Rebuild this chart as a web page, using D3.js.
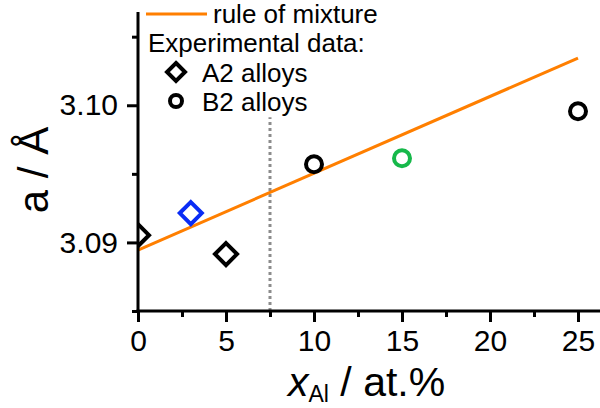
<!DOCTYPE html>
<html><head><meta charset="utf-8">
<script src="https://cdn.jsdelivr.net/npm/d3@7"></script>
<style>
body{margin:0;background:#fff;}
svg{display:block;font-family:"Liberation Sans",Arial,sans-serif;}
</style></head>
<body><svg id="c" width="600" height="408"></svg>
<script>
// Data
const a2X = [0, 5];
const a2Y = [3.09053, 3.08915];
const a2BlueX = [3];
const a2BlueY = [3.09214];
const b2X = [10, 25];
const b2Y = [3.09570, 3.09956];
const b2GreenX = [15];
const b2GreenY = [3.09614];
const ruleX = [0, 25];
const ruleY = [3.08944, 3.10344];
const boundaryX = [7.5];
const boundaryY = [3.085, 3.09913];
const xTicks = [0, 5, 10, 15, 20, 25];
const xMinor = [2.5, 7.5, 12.5, 17.5, 22.5];
const yTicks = [3.09, 3.10];
const yMinor = [3.085, 3.095, 3.105];
const legendLabels = ["rule of mixture", "Experimental data:", "A2 alloys", "B2 alloys"];

const svg = d3.select("#c");
const x = d3.scaleLinear().domain([0, 26.25]).range([138, 600]);
const y = d3.scaleLinear().domain([3.085, 3.1068]).range([311, 12]);

svg.append("defs").append("clipPath").attr("id","clip")
  .append("rect").attr("x",138).attr("y",0).attr("width",462).attr("height",311);

const plot = svg.append("g").attr("clip-path","url(#clip)");

// dashed boundary
plot.append("line")
  .attr("x1", x(boundaryX[0])).attr("x2", x(boundaryX[0]))
  .attr("y1", y(boundaryY[0])).attr("y2", y(boundaryY[1]))
  .attr("stroke","#8c8c8c").attr("stroke-width",3).attr("stroke-dasharray","3,3");

// rule of mixture
plot.append("path")
  .datum(ruleX.map((d,i)=>[d, ruleY[i]]))
  .attr("d", d3.line().x(d=>x(d[0])).y(d=>y(d[1])))
  .attr("fill","none").attr("stroke","#ff7f00").attr("stroke-width",3);

function diamond(g, cx, cy, r, color, w){
  g.append("path")
    .attr("d", `M${cx},${cy-r}L${cx+r},${cy}L${cx},${cy+r}L${cx-r},${cy}Z`)
    .attr("fill","none").attr("stroke",color).attr("stroke-width",w||4).attr("stroke-linejoin","miter");
}
function circ(g, cx, cy, r, color, w){
  g.append("circle").attr("cx",cx).attr("cy",cy).attr("r",r)
    .attr("fill","none").attr("stroke",color).attr("stroke-width",w||4);
}
a2X.forEach((d,i)=>diamond(plot, x(d), y(a2Y[i]), 11, "#000"));
a2BlueX.forEach((d,i)=>diamond(plot, x(d), y(a2BlueY[i]), 11, "#0a2cf5"));
b2X.forEach((d,i)=>circ(plot, x(d), y(b2Y[i]), 8, "#000"));
b2GreenX.forEach((d,i)=>circ(plot, x(d), y(b2GreenY[i]), 8, "#16b84a"));

// axes
const fs = 30;
const xAxis = svg.append("g").attr("transform","translate(0,311)")
  .call(d3.axisBottom(x).tickValues(xTicks).tickSize(11).tickPadding(8).tickSizeOuter(0).tickFormat(d3.format("d")));
const xAxisMinor = svg.append("g").attr("transform","translate(0,311)")
  .call(d3.axisBottom(x).tickValues(xMinor).tickSize(6).tickSizeOuter(0).tickFormat(""));
const yAxis = svg.append("g").attr("transform","translate(138,0)")
  .call(d3.axisLeft(y).tickValues(yTicks).tickSize(11).tickPadding(9).tickSizeOuter(0).tickFormat(d3.format(".2f")));
const yAxisMinor = svg.append("g").attr("transform","translate(138,0)")
  .call(d3.axisLeft(y).tickValues(yMinor).tickSize(6).tickSizeOuter(0).tickFormat(""));
[xAxis, xAxisMinor, yAxis, yAxisMinor].forEach(g=>{
  g.attr("font-size",fs).attr("font-family","Liberation Sans, Arial, sans-serif");
  g.selectAll(".domain").attr("stroke","#000").attr("stroke-width",3);
  g.selectAll(".tick line").attr("stroke","#000").attr("stroke-width",3);
  g.selectAll("text").style("font-size",fs+"px").attr("fill","#000");
});
xAxisMinor.select(".domain").remove();
yAxisMinor.select(".domain").remove();
yAxis.select(".domain").attr("d", `M0,${y.range()[1]}V${311+1.5}`);
xAxis.select(".domain").attr("d", `M${138-1.5},0H600`);

// axis titles
const xt = svg.append("text").attr("x",288).attr("y",396).attr("font-size",41).attr("fill","#000");
xt.append("tspan").attr("font-style","italic").text("x");
xt.append("tspan").attr("font-size",23).attr("dy",6).text("Al");
xt.append("tspan").attr("dy",-6).text(" / at.%");

svg.append("text").attr("transform","translate(48,170) rotate(-90)")
  .attr("text-anchor","middle").attr("font-size",42).attr("fill","#000").text("a / Å");

// legend
const lg = svg.append("g").attr("font-size",26).attr("fill","#000");
lg.append("line").attr("x1",146).attr("x2",207).attr("y1",14).attr("y2",14)
  .attr("stroke","#ff7f00").attr("stroke-width",3);
lg.append("text").attr("x",213).attr("y",23).text(legendLabels[0]);
lg.append("text").attr("x",148).attr("y",52).text(legendLabels[1]);
diamond(lg, 176, 72, 9, "#000", 4);
lg.append("text").attr("x",202).attr("y",82).text(legendLabels[2]);
circ(lg, 176, 101, 6, "#000", 4);
lg.append("text").attr("x",202).attr("y",111).text(legendLabels[3]);
</script></body></html>
